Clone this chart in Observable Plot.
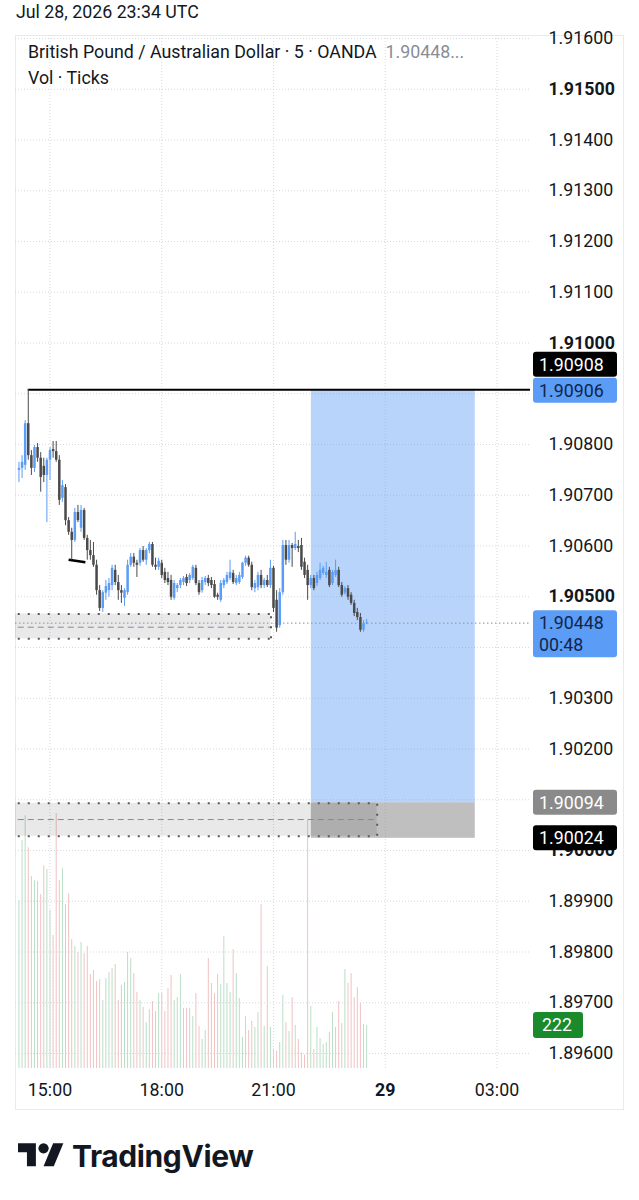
<!DOCTYPE html>
<html>
<head>
<meta charset="utf-8">
<script src="https://cdn.jsdelivr.net/npm/d3@7"></script>
<script src="https://cdn.jsdelivr.net/npm/@observablehq/plot@0.6"></script>
<style>
  html,body{margin:0;padding:0;background:#fff;}
  #wrap{position:relative;width:639px;height:1200px;overflow:hidden;font-family:Roboto,"Noto Sans",sans-serif;color:#131722;}
  .abs{position:absolute;}
  #vol, #main{width:639px;height:1200px;}
  #vol svg, #main svg{position:absolute;left:0;top:0;max-width:none !important;width:639px;height:1200px;}
</style>
</head>
<body>
<div id="wrap">
  <div class="abs" style="left:16px;top:1px;font-size:17.8px;line-height:22px;">Jul 28, 2026 23:34 UTC</div>
  <div class="abs" style="left:15px;top:35px;width:609px;height:1075px;border:1px solid #e8eaef;box-sizing:border-box;"></div>
  <div class="abs" id="vol" style="left:0;top:0;"></div>
  <div class="abs" id="main" style="left:0;top:0;"></div>
  <div class="abs" style="left:28px;top:39px;font-size:17.8px;line-height:26px;white-space:nowrap;">British Pound / Australian Dollar · 5 · OANDA&nbsp;&nbsp;<span style="color:#8a8d95">1.90448...</span><br>Vol · Ticks</div>
  <div class="abs" style="left:18px;top:1138px;display:flex;align-items:center;">
    <svg width="46" height="36" viewBox="0 0 36 28"><path d="M14 22H7V11H0V4h14v18z" fill="#131722"/><circle cx="20" cy="8" r="4" fill="#131722"/><path d="M28 22h-8l7.5-18h8L28 22z" fill="#131722"/></svg>
    <span style="font-family:Inter;font-weight:700;font-size:30px;margin-left:8px;letter-spacing:-0.4px;">TradingView</span>
  </div>
</div>
<script>
// ---------- data ----------
const startTime = "2026-07-28T14:10:00Z";
const barMinutes = 5;
const open = [1.90749,1.90753,1.90759,1.90841,1.90778,1.90753,1.90794,1.90773,1.90757,1.90739,
1.90769,1.90790,1.90786,1.90769,1.90694,1.90715,1.90650,1.90627,1.90611,1.90666,
1.90635,1.90670,1.90615,1.90591,1.90581,1.90562,1.90512,1.90477,1.90507,1.90512,
1.90522,1.90552,1.90528,1.90512,1.90497,1.90508,1.90562,1.90578,1.90566,1.90566,
1.90591,1.90572,1.90591,1.90603,1.90562,1.90558,1.90566,1.90548,1.90536,1.90532,
1.90497,1.90516,1.90522,1.90528,1.90538,1.90532,1.90536,1.90556,1.90526,1.90512,
1.90528,1.90536,1.90532,1.90524,1.90503,1.90493,1.90522,1.90528,1.90536,1.90546,
1.90526,1.90528,1.90538,1.90566,1.90576,1.90562,1.90516,1.90518,1.90542,1.90522,
1.90532,1.90522,1.90556,1.90493,1.90443,1.90508,1.90601,1.90572,1.90601,1.90595,
1.90599,1.90601,1.90568,1.90552,1.90522,1.90536,1.90526,1.90536,1.90546,1.90542,
1.90552,1.90526,1.90542,1.90552,1.90522,1.90507,1.90516,1.90503,1.90487,1.90469,
1.90459,1.90434,1.90447];
const high = [1.90765,1.90778,1.90847,1.90908,1.90788,1.90798,1.90802,1.90784,1.90773,1.90773,
1.90794,1.90806,1.90806,1.90778,1.90729,1.90721,1.90656,1.90635,1.90674,1.90680,
1.90680,1.90674,1.90621,1.90611,1.90607,1.90572,1.90522,1.90512,1.90532,1.90536,
1.90562,1.90562,1.90542,1.90522,1.90516,1.90572,1.90585,1.90585,1.90572,1.90595,
1.90599,1.90595,1.90607,1.90607,1.90576,1.90576,1.90572,1.90556,1.90548,1.90542,
1.90532,1.90526,1.90536,1.90540,1.90544,1.90546,1.90562,1.90562,1.90532,1.90538,
1.90540,1.90542,1.90538,1.90532,1.90507,1.90532,1.90536,1.90548,1.90572,1.90552,
1.90542,1.90548,1.90568,1.90580,1.90580,1.90568,1.90532,1.90548,1.90552,1.90536,
1.90542,1.90572,1.90560,1.90512,1.90516,1.90611,1.90611,1.90611,1.90605,1.90627,
1.90611,1.90615,1.90576,1.90562,1.90542,1.90542,1.90548,1.90566,1.90560,1.90568,
1.90558,1.90552,1.90572,1.90558,1.90528,1.90520,1.90522,1.90508,1.90493,1.90477,
1.90467,1.90453,1.90455];
const low = [1.90725,1.90733,1.90749,1.90769,1.90739,1.90745,1.90765,1.90706,1.90725,1.90646,
1.90729,1.90773,1.90765,1.90680,1.90686,1.90640,1.90621,1.90572,1.90607,1.90646,
1.90627,1.90611,1.90572,1.90572,1.90558,1.90503,1.90471,1.90469,1.90493,1.90499,
1.90512,1.90522,1.90493,1.90487,1.90481,1.90503,1.90558,1.90558,1.90538,1.90560,
1.90568,1.90562,1.90585,1.90558,1.90552,1.90552,1.90536,1.90526,1.90522,1.90493,
1.90493,1.90508,1.90516,1.90522,1.90520,1.90526,1.90532,1.90522,1.90503,1.90507,
1.90522,1.90520,1.90516,1.90497,1.90493,1.90489,1.90516,1.90524,1.90532,1.90524,
1.90522,1.90524,1.90534,1.90560,1.90558,1.90512,1.90508,1.90512,1.90516,1.90516,
1.90518,1.90516,1.90469,1.90430,1.90438,1.90503,1.90562,1.90566,1.90558,1.90591,
1.90587,1.90552,1.90536,1.90493,1.90516,1.90512,1.90520,1.90532,1.90542,1.90536,
1.90518,1.90522,1.90538,1.90518,1.90499,1.90503,1.90493,1.90483,1.90461,1.90453,
1.90430,1.90430,1.90445];
const close = [1.90753,1.90765,1.90841,1.90778,1.90753,1.90794,1.90773,1.90735,1.90739,1.90769,
1.90788,1.90786,1.90769,1.90690,1.90719,1.90650,1.90627,1.90611,1.90666,1.90650,
1.90670,1.90615,1.90591,1.90581,1.90562,1.90512,1.90477,1.90508,1.90520,1.90526,
1.90556,1.90528,1.90512,1.90507,1.90512,1.90562,1.90578,1.90566,1.90562,1.90591,
1.90572,1.90591,1.90603,1.90562,1.90558,1.90570,1.90542,1.90532,1.90528,1.90499,
1.90526,1.90522,1.90532,1.90536,1.90526,1.90542,1.90558,1.90526,1.90508,1.90532,
1.90536,1.90526,1.90522,1.90499,1.90499,1.90526,1.90532,1.90542,1.90548,1.90528,
1.90536,1.90542,1.90566,1.90576,1.90562,1.90518,1.90526,1.90542,1.90522,1.90532,
1.90522,1.90556,1.90477,1.90438,1.90508,1.90601,1.90572,1.90601,1.90595,1.90603,
1.90595,1.90558,1.90542,1.90522,1.90536,1.90516,1.90542,1.90552,1.90556,1.90548,
1.90522,1.90548,1.90552,1.90522,1.90503,1.90516,1.90499,1.90487,1.90467,1.90459,
1.90434,1.90447,1.90448];
const volume = [867,1176,1305,1140,991,970,965,898,1047,1027,
815,686,1316,970,1032,846,903,666,630,599,
650,593,630,485,506,449,459,351,464,495,
516,537,351,428,444,599,568,490,392,351,
315,237,304,346,294,387,387,294,413,480,
351,366,485,310,310,310,268,
387,217,150,196,568,439,387,485,433,681,
439,392,614,490,361,160,268,196,243,212,
289,846,217,526,212,100,90,134,377,237,
191,366,222,150,80,70,1280,320,98,212,
155,124,134,186,289,212,346,232,511,439,
490,366,418,335,227,222];

// grid levels and the labels that stay visible (others are covered by the price tags)
const gridPrices = [1.916,1.915,1.914,1.913,1.912,1.911,1.910,1.909,1.908,1.907,1.906,1.905,1.904,1.903,1.902,1.901,1.900,1.899,1.898,1.897,1.896];
const priceTicks = [1.916,1.914,1.913,1.912,1.911,1.908,1.907,1.906,1.903,1.902,1.899,1.898,1.897,1.896];
const boldPriceTicks = [1.915,1.910,1.905,1.900];
const timeTicks = ["2026-07-28T15:00:00Z","2026-07-28T18:00:00Z","2026-07-28T21:00:00Z","2026-07-29T00:00:00Z","2026-07-29T03:00:00Z"];
const timeTickLabels = ["15:00","18:00","21:00","29","03:00"];
const boldTimeLabels = ["29"];

const levelLines = [{price: 1.90908, from: "2026-07-28T14:25:00Z", to: "2026-07-29T06:00:00Z"}];
const trendSegments = [{t1: "2026-07-28T15:30:00Z", p1: 1.90573, t2: "2026-07-28T15:57:00Z", p2: 1.90568}];
const positionBox = {start: "2026-07-28T22:01:00Z", end: "2026-07-29T02:25:00Z", target: 1.90906, entry: 1.90094, stop: 1.90024};
const zoneStart = ["2026-07-28T12:00:00Z","2026-07-28T12:00:00Z"];
const zoneEnd = ["2026-07-28T20:56:00Z","2026-07-28T23:47:00Z"];
const zoneTop = [1.90466,1.90093];
const zoneMid = [1.90440,1.90061];
const zoneBottom = [1.90417,1.90028];
const lastPrice = 1.90448;
const countdown = "00:48";
const lastVolume = 222;
const tagValues = [1.90908, 1.90906, 1.90448, 1.90094, 1.90024];

// ---------- styling / layout ----------
const W = 639, H = 1200, ML = 15, MR = 109, MT = 35, MB = 132;
const UP = "#5b9cf6", DN = "#4a4a4a";
const FONT = "Roboto, 'Noto Sans', sans-serif";
const FS = 17.8;
const xScale = {type: "utc", domain: [new Date("2026-07-28T15:00:00Z"), new Date("2026-07-29T03:00:00Z")], range: [49.5, 496.5], axis: null};
const tagStyles = [
  {bg: "#000000", fg: "#ffffff", shift: -25},
  {bg: "#5b9cf6", fg: "#10264a", shift: 0},
  {bg: "#5b9cf6", fg: "#10264a", shift: 0},
  {bg: "#8a8a8a", fg: "#ffffff", shift: 0},
  {bg: "#000000", fg: "#ffffff", shift: 0}
];

const t0 = +new Date(startTime);
const bars = open.map((o, i) => ({
  t: new Date(t0 + i * barMinutes * 60000), o, h: high[i], l: low[i], c: close[i], v: volume[i], up: close[i] >= o
}));
const zones = zoneTop.map((top, i) => ({t1: new Date(zoneStart[i]), t2: new Date(zoneEnd[i]), top, mid: zoneMid[i], bot: zoneBottom[i]}));
const levels = levelLines.map(d => ({price: d.price, t1: new Date(d.from), t2: new Date(d.to)}));
const segs = trendSegments.map(d => ({t1: new Date(d.t1), p1: d.p1, t2: new Date(d.t2), p2: d.p2}));
const pos = [{
  t1: new Date(positionBox.start), t2: new Date(positionBox.end),
  target: positionBox.target, entry: positionBox.entry, stop: positionBox.stop
}];
const tickDates = timeTicks.map(s => new Date(s));
const labelOf = new Map(tickDates.map((d, i) => [+d, timeTickLabels[i]]));
const normalTimeTicks = tickDates.filter(d => !boldTimeLabels.includes(labelOf.get(+d)));
const boldTimeTicks = tickDates.filter(d => boldTimeLabels.includes(labelOf.get(+d)));

// ---------- volume pane ----------
const volSvg = Plot.plot({
  width: W, height: H, marginLeft: ML, marginRight: MR, marginTop: MT, marginBottom: MB,
  style: {background: "transparent", fontFamily: FONT},
  x: xScale,
  y: {domain: [0, lastVolume], range: [1068, 1025], axis: null},
  marks: [
    Plot.ruleX(bars, {x: "t", y1: 0, y2: "v", stroke: d => d.up ? "#b9dec5" : "#f0c2c2", strokeWidth: 1})
  ]
});
document.getElementById("vol").append(volSvg);

// ---------- price pane ----------
const gridStyle = {stroke: "#d6d9e0", strokeDasharray: "1,2", strokeWidth: 1};
const mainSvg = Plot.plot({
  width: W, height: H, marginLeft: ML, marginRight: MR, marginTop: MT, marginBottom: MB,
  style: {background: "transparent", fontFamily: FONT, color: "#131722"},
  x: xScale,
  y: {domain: [1.896, 1.916], range: [1053, 38], axis: null},
  marks: [
    Plot.ruleY(gridPrices, gridStyle),
    Plot.ruleX(tickDates, gridStyle),
    // long position tool
    Plot.rect(pos, {x1: "t1", x2: "t2", y1: "entry", y2: "target", fill: "rgb(100,160,245)", fillOpacity: 0.45}),
    Plot.rect(pos, {x1: "t1", x2: "t2", y1: "stop", y2: "entry", fill: "#808080", fillOpacity: 0.5}),
    // zones
    Plot.rect(zones, {x1: "t1", x2: "t2", y1: "bot", y2: "top", fill: "#000", fillOpacity: 0.085, clip: "frame"}),
    Plot.ruleY(zones, {y: "mid", x1: "t1", x2: "t2", stroke: "#7f8ca3", strokeDasharray: "6,4", strokeWidth: 1, clip: "frame"}),
    Plot.ruleY(zones, {y: "top", x1: "t1", x2: "t2", stroke: "#5a5a5a", strokeDasharray: "2,8", strokeWidth: 2, clip: "frame"}),
    Plot.ruleY(zones, {y: "bot", x1: "t1", x2: "t2", stroke: "#5a5a5a", strokeDasharray: "2,8", strokeWidth: 2, clip: "frame"}),
    Plot.ruleX(zones, {x: "t2", y1: "bot", y2: "top", stroke: "#5a5a5a", strokeDasharray: "2,8", strokeWidth: 2}),
    // current price line
    Plot.ruleY([lastPrice], {stroke: "#8f8f8f", strokeDasharray: "1.5,2.5", strokeWidth: 1}),
    // drawn lines
    Plot.ruleY(levels, {y: "price", x1: "t1", x2: "t2", stroke: "#000", strokeWidth: 2, clip: "frame"}),
    Plot.link(segs, {x1: "t1", y1: "p1", x2: "t2", y2: "p2", stroke: "#000", strokeWidth: 2.5}),
    // candles
    Plot.ruleX(bars, {x: "t", y1: "l", y2: "h", stroke: d => d.up ? UP : DN, strokeWidth: 1}),
    Plot.ruleX(bars, {x: "t", y1: "o", y2: "c", stroke: d => d.up ? UP : DN, strokeWidth: 2.5}),
    // axes
    Plot.axisY(priceTicks, {anchor: "right", tickSize: 0, tickPadding: 18, tickFormat: d => d.toFixed(5), fontSize: FS, fill: "#131722"}),
    Plot.axisY(boldPriceTicks, {anchor: "right", tickSize: 0, tickPadding: 18, tickFormat: d => d.toFixed(5), fontSize: FS, fontWeight: "bold", fill: "#131722"}),
    Plot.axisX(normalTimeTicks, {anchor: "bottom", tickSize: 0, tickPadding: 15, tickFormat: d => labelOf.get(+d), fontSize: FS, fill: "#131722"}),
    Plot.axisX(boldTimeTicks, {anchor: "bottom", tickSize: 0, tickPadding: 15, tickFormat: d => labelOf.get(+d), fontSize: FS, fontWeight: "bold", fill: "#131722"})
  ]
});
document.getElementById("main").append(mainSvg);

// ---------- price / volume tags on the scale ----------
const yS = mainSvg.scale("y");
const yV = volSvg.scale("y");
const frameRight = W - MR;
const g = d3.select(mainSvg).append("g")
  .attr("font-family", FONT).attr("font-size", FS).attr("text-anchor", "start");
tagValues.forEach((v, i) => {
  const st = tagStyles[i];
  const lines = [v.toFixed(5)];
  if (v === lastPrice) lines.push(countdown);
  const y = yS.apply(v) + st.shift;
  const h = 25 + (lines.length - 1) * 22;
  g.append("rect").attr("x", frameRight + 3).attr("y", y - 12.5).attr("width", 84).attr("height", h).attr("rx", 3).attr("fill", st.bg);
  lines.forEach((s, j) => g.append("text").attr("x", frameRight + 9).attr("y", y + j * 22).attr("dy", "0.36em").attr("text-anchor", "start").attr("fill", st.fg).text(s));
});
{
  const y = yV.apply(lastVolume);
  g.append("rect").attr("x", frameRight + 3).attr("y", y - 13).attr("width", 50).attr("height", 26).attr("rx", 3).attr("fill", "#1a8a2b");
  g.append("text").attr("x", frameRight + 12).attr("y", y).attr("dy", "0.36em").attr("text-anchor", "start").attr("fill", "#ffffff").text(String(lastVolume));
}
</script>
</body>
</html>
